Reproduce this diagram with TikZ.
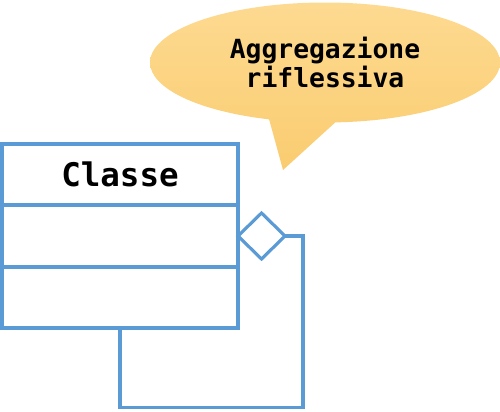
\documentclass[tikz,border=0pt]{standalone}
\usepackage{fontspec}
\setmonofont{DejaVu Sans Mono}
\usetikzlibrary{positioning, calc, shapes.geometric, shapes.callouts}

\definecolor{umlblue}{RGB}{91,155,213}
\definecolor{notetop}{RGB}{253,218,145}
\definecolor{notebottom}{RGB}{250,204,112}

\begin{document}
\begin{tikzpicture}[node distance=0pt,
    classbox/.style={draw=umlblue, line width=2.1pt, outer sep=0pt, inner sep=0pt,
      minimum width=4.72cm, minimum height=1.23cm,
      font=\ttfamily\bfseries\fontsize{18.5}{20}\selectfont},
    aggdiamond/.style={diamond, draw=umlblue, line width=1.8pt, outer sep=0pt,
      inner sep=0pt, minimum width=0.94cm, minimum height=0.92cm},
    link/.style={draw=umlblue, line width=1.8pt},
    bubble/.style={ellipse callout, top color=notetop, bottom color=notebottom,
      draw=none, minimum width=7cm, minimum height=2.4cm, inner sep=0pt,
      callout pointer arc=22, align=center,
      font=\ttfamily\bfseries\fontsize{15}{17}\selectfont}]
  \useasboundingbox (0,0) rectangle (10,-8.22);
  % class with its three compartments
  \node[classbox] (name) at (2.4,-3.49) {Classe};
  \node[classbox, below=of name] (attr) {};
  \node[classbox, below=of attr] (ops) {};
  % aggregation end
  \node[aggdiamond, right=of attr] (agg) {};
  \coordinate (loop) at ($(ops.south)+(3.66,-1.58)$);
  \draw[link] (agg.east) -| (loop) -| (ops.south);
  % note
  \node[bubble, callout absolute pointer={(5.66,-3.40)}] (note) at (6.5,-1.25)
    {Aggregazione\\riflessiva};
\end{tikzpicture}
\end{document}
